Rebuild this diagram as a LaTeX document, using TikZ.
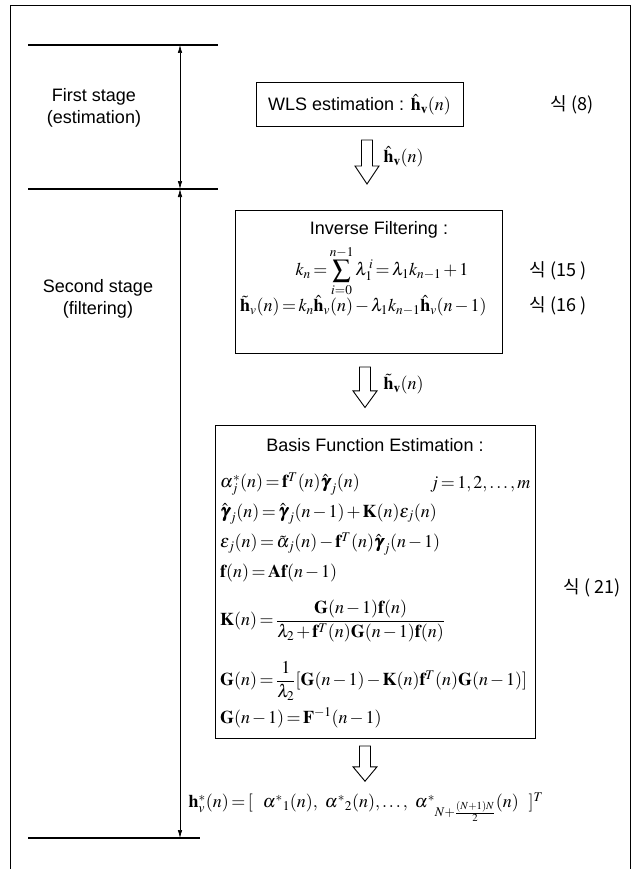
\documentclass[tikz,border=0pt]{standalone}
\usepackage{amsmath}
\usepackage{mathptmx}
\usepackage{bm}
\usepackage[no-math]{fontspec}
\setmainfont{Liberation Sans}
\newfontfamily\krfont{Noto Sans CJK KR}
\usetikzlibrary{arrows.meta}
\newcommand\tightmath{\thickmuskip=2.5mu plus 1mu\medmuskip=2mu plus 1mu}

\begin{document}
\begin{tikzpicture}[x=1pt,y=-1pt,
  every node/.style={font=\fontsize{18}{21.5}\selectfont\tightmath},
  stagebox/.style={draw,line width=1pt,inner sep=0pt},
  eqline/.style={anchor=west,inner sep=0pt},
  eqref/.style={anchor=west,font=\fontsize{18}{21.5}\selectfont\krfont},
  stageline/.style={line width=1.6pt},
  span/.style={{Latex[length=8pt,width=4.5pt]}-{Latex[length=8pt,width=4.5pt]},line width=0.7pt},
  blockarrow/.pic={\draw[line width=0.9pt,fill=white]
    (-5.5,0) -- (-5.5,26) -- (-12,26) -- (0,44) -- (12,26) -- (5.5,26) -- (5.5,0) -- cycle;}]
  \useasboundingbox (0,0) rectangle (636,869);
  \draw[line width=0.8pt] (10,869) -- (10,5) -- (630,5) -- (630,869);

  % stages
  \coordinate (a0) at (180,45);
  \coordinate (a1) at (180,189);
  \coordinate (a2) at (180,838);
  \draw[stageline] (28,45) -- (218,45);
  \draw[stageline] (28,189) -- (218,189);
  \draw[stageline] (28,838) -- (200,838);
  \draw[span] (a0) -- (a1);
  \draw[span] (a1) -- (a2);
  \node[align=center] (first) at (94,108) {First stage\\(estimation)};
  \node[align=center] (second) at (98,299) {Second stage\\(filtering)};

  % first stage
  \node[stagebox,minimum width=207pt,minimum height=44pt] (wls) at (359.5,105)
    {WLS estimation : $\hat{\mathbf h}_{\mathbf v}(n)$};
  \node[eqref] (r8) at (547,105) {식 (8)};
  \pic at (367,140) {blockarrow};
  \node[anchor=west] (lab1) at (380,157) {$\hat{\mathbf h}_{\mathbf v}(n)$};

  % inverse filtering
  \node[stagebox,minimum width=267pt,minimum height=143pt] (inv) at (368.5,281.5) {};
  \node (invt) at (379,230) {Inverse Filtering :};
  \node (eq15) at (382,271) {$k_n=\displaystyle\sum_{i=0}^{n-1}\lambda_1^{\,i}=\lambda_1k_{n-1}+1$};
  \node[eqline] (eq16) at (240,306) {$\tilde{\mathbf h}_v(n)=k_n\hat{\mathbf h}_v(n)-\lambda_1k_{n-1}\hat{\mathbf h}_v(n-1)$};
  \node[eqref] (r15) at (526,271) {식 (15 )};
  \node[eqref] (r16) at (526,306) {식 (16 )};
  \pic[yscale=0.92] at (365,367) {blockarrow};
  \node[anchor=west] (lab2) at (380,384) {$\tilde{\mathbf h}_{\mathbf v}(n)$};

  % basis function estimation
  \node[stagebox,minimum width=320pt,minimum height=313pt] (bfe) at (375,581.5) {};
  \node (bfet) at (375,445) {Basis Function Estimation :};
  \node[eqline] (e1) at (220,484) {$\alpha_j^*(n)=\mathbf f^T(n)\hat{\bm\gamma}_j(n)$};
  \node[eqline] (e1b) at (430,484) {$j=1,2,\ldots,m$};
  \node[eqline] (e2) at (220,514) {$\hat{\bm\gamma}_j(n)=\hat{\bm\gamma}_j(n-1)+\mathbf K(n)\varepsilon_j(n)$};
  \node[eqline] (e3) at (220,544) {$\varepsilon_j(n)=\tilde\alpha_j(n)-\mathbf f^T(n)\hat{\bm\gamma}_j(n-1)$};
  \node[eqline] (e4) at (220,573) {$\mathbf f(n)=\mathbf A\mathbf f(n-1)$};
  \node[eqline] (e5) at (220,621) {$\mathbf K(n)=\dfrac{\mathbf G(n-1)\mathbf f(n)}{\lambda_2+\mathbf f^T(n)\mathbf G(n-1)\mathbf f(n)}$};
  \node[eqline] (e6) at (220,681) {$\mathbf G(n)=\dfrac{1}{\lambda_2}[\mathbf G(n-1)-\mathbf K(n)\mathbf f^T(n)\mathbf G(n-1)]$};
  \node[eqline] (e7) at (220,718) {$\mathbf G(n-1)=\mathbf F^{-1}(n-1)$};
  \node[eqref] (r21) at (560,588) {식 ( 21)};
  \pic[yscale=0.8] at (365,746) {blockarrow};

  % result
  \node (res) at (366,807) {$\mathbf h_v^*(n)=[\ \ \alpha^*{}_1(n),\ \alpha^*{}_2(n),\ldots,\ \alpha^*{}_{N+\frac{(N+1)N}{2}}(n)\ \ ]^T$};
\end{tikzpicture}
\end{document}
